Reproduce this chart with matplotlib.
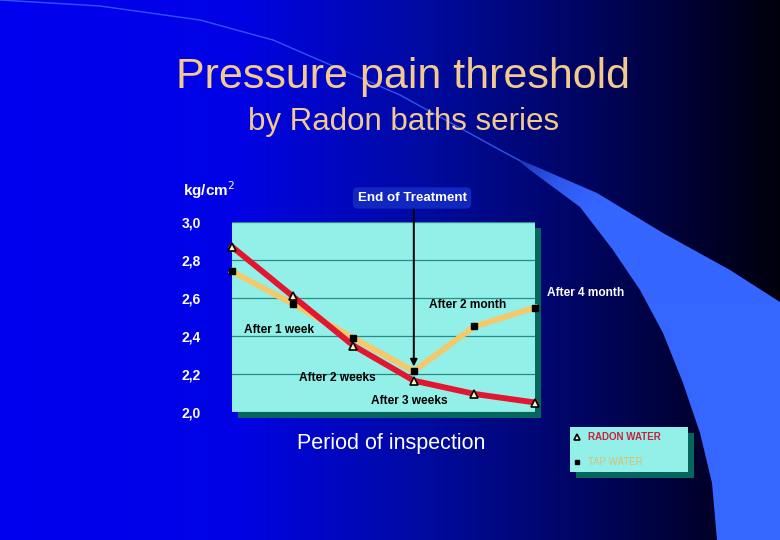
import numpy as np
import matplotlib
matplotlib.use("Agg")
import matplotlib.pyplot as plt
from matplotlib.patches import Rectangle, Polygon
from matplotlib.colors import LinearSegmentedColormap

plt.rcParams['font.family'] = ['Liberation Sans', 'DejaVu Sans']

periods = ["Start", "After 1 week", "After 2 weeks", "After 3 weeks", "After 2 month", "After 4 month"]
radon_water = [2.87, 2.61, 2.35, 2.165, 2.095, 2.05]
tap_water = [2.74, 2.57, 2.39, 2.215, 2.45, 2.55]
y_ticks = [2.0, 2.2, 2.4, 2.6, 2.8, 3.0]
y_tick_labels = ["2,0", "2,2", "2,4", "2,6", "2,8", "3,0"]

W, H = 780, 540
fig = plt.figure(figsize=(W / 100, H / 100), dpi=100)

# ---- background ----
bg = fig.add_axes([0, 0, 1, 1])
bg.set_xlim(0, W)
bg.set_ylim(H, 0)
bg.axis('off')
cmap = LinearSegmentedColormap.from_list('bgc', [
    (0.0, (0, 0, 0.94)), (0.3, (0, 0.01, 0.90)), (0.55, (0, 0.04, 0.62)),
    (0.75, (0, 0.02, 0.38)), (0.9, (0, 0.0, 0.18)), (1.0, (0, 0, 0.05))])
grad = np.tile(np.linspace(0, 1, 400), (2, 1))
bg.imshow(grad, cmap=cmap, extent=[0, W, H, 0], aspect='auto', zorder=0)

# thin swoosh line and band
lx = np.array([0, 100, 200, 273, 400, 500, 530])
ly = np.array([0, 6, 20, 40, 95, 150, 166])
bg.plot(lx, ly, color='#4066ff', lw=1.0, alpha=0.8, zorder=1)
upper = [(520, 160), (530, 164), (597, 193), (663, 233), (730, 270), (780, 302)]
left = [(717, 540), (712, 483), (700, 433), (683, 383), (663, 333), (640, 290),
        (613, 250), (580, 207), (530, 170), (520, 162)]
band = Polygon(upper + [(780, 540)] + left, closed=True, facecolor='none', edgecolor='none', zorder=1)
bg.add_patch(band)
bcmap = LinearSegmentedColormap.from_list('band', ['#1e36b8', '#2f58f0', '#3566ff', '#3566ff'])
gx, gy = np.meshgrid(np.linspace(0, 1, 200), np.linspace(0, 1, 200))
bgrad = np.clip((gx * 260 + gy * 140) / 180.0, 0, 1)
im = bg.imshow(bgrad, cmap=bcmap, extent=[520, 780, 300, 160], aspect='auto', zorder=1, vmin=0, vmax=1)
im2 = bg.imshow(np.ones((2, 2)), cmap=bcmap, extent=[600, 780, 540, 300], aspect='auto', zorder=1, vmin=0, vmax=1)
im.set_clip_path(band)
im2.set_clip_path(band)

# ---- title ----
fig.text(403 / W, 1 - 77 / H, "Pressure pain threshold", color='#f2c98e', fontsize=31,
         ha='center', va='center')
fig.text(404 / W, 1 - 122 / H, "by Radon baths series", color='#f2c98e', fontsize=22.5,
         ha='center', va='center')

# ---- chart ----
x0, x1, y0, y1 = 232, 535, 222, 412
pos = [x0 / W, 1 - y1 / H, (x1 - x0) / W, (y1 - y0) / H]
fig.patches.append(Rectangle(((x0 + 6) / W, 1 - (y1 + 6) / H), (x1 - x0) / W, (y1 - y0) / H,
                             transform=fig.transFigure, facecolor='#05665e', edgecolor='none', zorder=1))
ax = fig.add_axes(pos, zorder=2)
ax.set_facecolor('#92f0e8')
x = np.arange(len(periods))
ax.set_xlim(0, len(periods) - 1)
ax.set_ylim(2.0, 3.0)
for s in ax.spines.values():
    s.set_visible(False)
ax.set_xticks([])
ax.set_yticks(y_ticks)
ax.tick_params(axis='y', length=0, labelsize=10, labelcolor='white', pad=36)
ax.set_yticklabels(y_tick_labels, fontweight='bold')
for lab in ax.get_yticklabels():
    lab.set_horizontalalignment('left')
ax.yaxis.grid(True, color='#2a8a86', lw=0.9)
ax.set_axisbelow(True)

ax.plot(x, tap_water, color='#f5c86a', lw=4.2, zorder=3, clip_on=False)
ax.plot(x, tap_water, ls='none', marker='s', ms=4, color='black', zorder=5, clip_on=False)
ax.plot(x, radon_water, color='#e3152f', lw=4.2, zorder=4, clip_on=False)
ax.plot(x, radon_water, ls='none', marker='^', ms=6, mfc='#fff6c8', mec='black', mew=1.2,
        zorder=6, clip_on=False)

# annotations
txt = dict(fontsize=8.6, fontweight='bold', color='black', va='center')
ax.text(0.2, 2.432, "After 1 week", **txt)
ax.text(1.1, 2.179, "After 2 weeks", **txt)
ax.text(2.3, 2.058, "After 3 weeks", **txt)
ax.text(3.25, 2.563, "After 2 month", **txt)
fig.text(547 / W, 1 - 293 / H, "After 4 month", fontsize=8.6, fontweight='bold', color='white', va='center')

ax.annotate("", xy=(3, 2.225), xytext=(3, 3.09), xycoords='data',
            arrowprops=dict(arrowstyle='-|>', color='black', lw=1.4, mutation_scale=10), annotation_clip=False)
fig.text(412 / W, 1 - 198 / H, "End of Treatment", fontsize=9.6, fontweight='bold', color='white',
         ha='center', va='center',
         bbox=dict(boxstyle='round,pad=0.35', facecolor='#1226c0', edgecolor='none'))

fig.text(183 / W, 1 - 190 / H, "kg/cm$^{2}$", fontsize=11, fontweight='bold', color='white', va='center')
fig.text(297 / W, 1 - 444 / H, "Period of inspection", fontsize=15.5, color='white', va='center')

# ---- legend ----
lx0, ly0, lx1, ly1 = 570, 427, 688, 472
fig.patches.append(Rectangle(((lx0 + 6) / W, 1 - (ly1 + 6) / H), (lx1 - lx0) / W, (ly1 - ly0) / H,
                             transform=fig.transFigure, facecolor='#05665e', edgecolor='none', zorder=1))
fig.patches.append(Rectangle((lx0 / W, 1 - ly1 / H), (lx1 - lx0) / W, (ly1 - ly0) / H,
                             transform=fig.transFigure, facecolor='#92f0e8', edgecolor='none', zorder=2))
leg = fig.add_axes([0, 0, 1, 1], zorder=3)
leg.set_xlim(0, W)
leg.set_ylim(H, 0)
leg.axis('off')
leg.plot([577], [437], ls='none', marker='^', ms=5, mfc='#fff6c8', mec='black', mew=1.2)
leg.plot([577], [462], ls='none', marker='s', ms=3.5, color='black')
leg.text(588, 437, "RADON WATER", fontsize=7, fontweight='bold', color='#c8213f', va='center')
leg.text(588, 462, "TAP WATER", fontsize=7, color='#d8c070', va='center')

fig.savefig("out.png", dpi=100)
